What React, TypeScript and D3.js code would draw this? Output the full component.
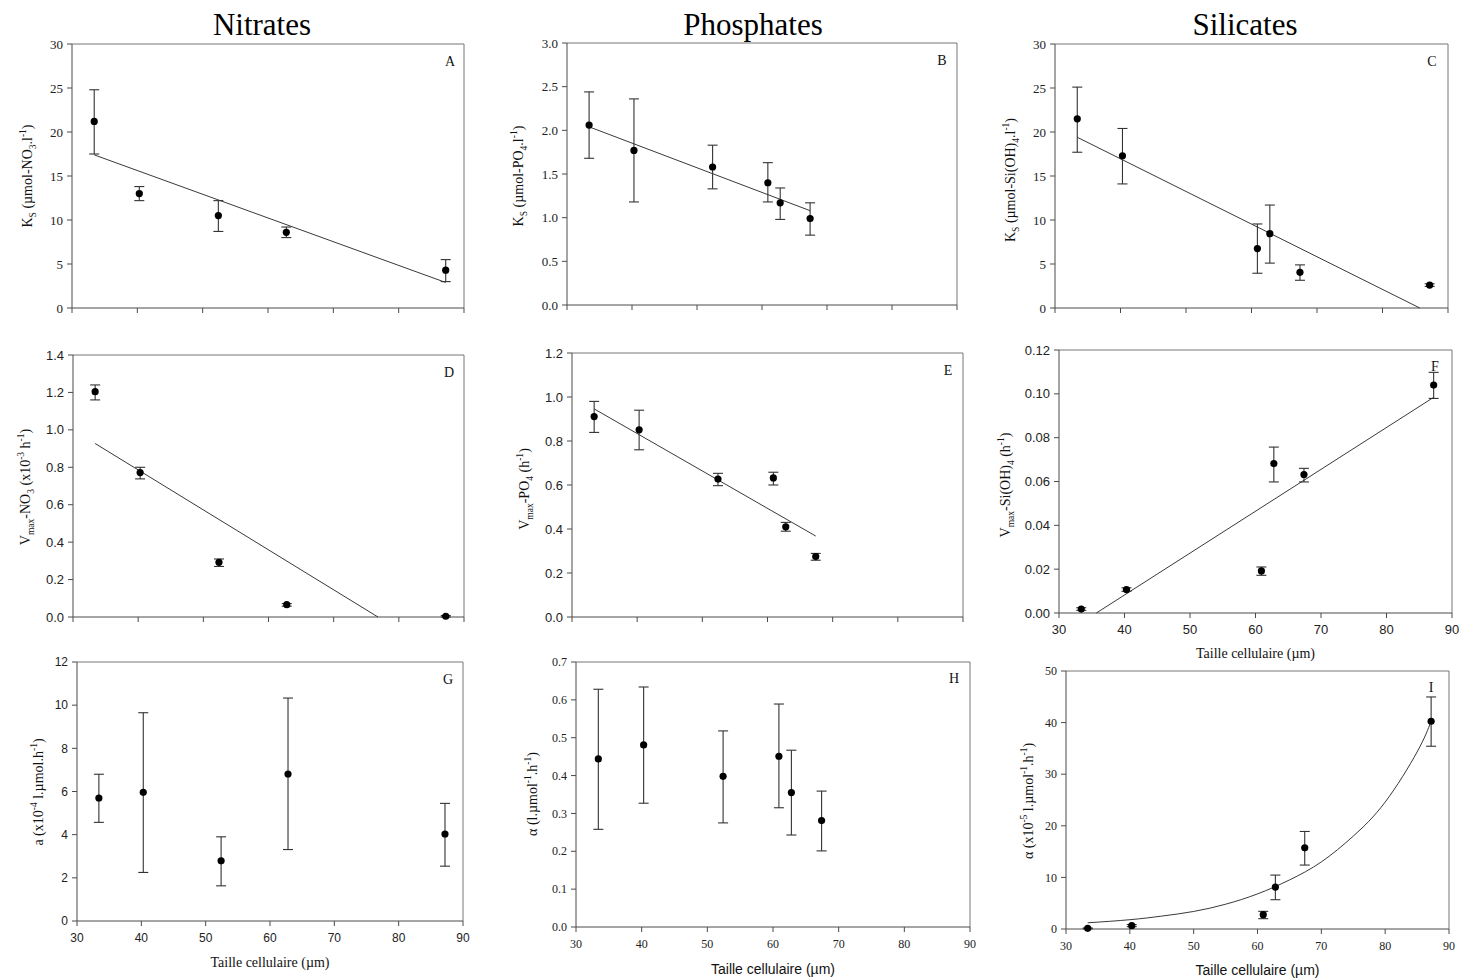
import React from 'react';
import * as d3 from 'd3';

const SERIF = '"Liberation Serif", "Times New Roman", serif';
const SANS = '"Liberation Sans", Arial, sans-serif';

// Cell sizes (µm)
const sizeNitrate = [33.4, 40.3, 52.4, 62.8, 87.2];
const sizePhosphate = [33.4, 40.3, 52.4, 60.9, 62.8, 67.4];
const sizeSilicate = [33.4, 40.3, 60.9, 62.8, 67.4, 87.2];
const xTicks = [30, 40, 50, 60, 70, 80, 90];

// A: Ks nitrate
const ksNO3 = [21.2, 13.0, 10.5, 8.6, 4.3];
const ksNO3Lo = [17.5, 12.2, 8.7, 8.0, 3.0];
const ksNO3Hi = [24.8, 13.8, 12.2, 9.2, 5.5];
const ksNO3Fit = [[33.4, 17.4], [87.2, 2.9]];
const ksNO3Ticks = [0, 5, 10, 15, 20, 25, 30];

// B: Ks phosphate
const ksPO4 = [2.06, 1.77, 1.58, 1.40, 1.17, 0.99];
const ksPO4Lo = [1.68, 1.18, 1.33, 1.18, 0.98, 0.80];
const ksPO4Hi = [2.44, 2.36, 1.83, 1.63, 1.34, 1.17];
const ksPO4Fit = [[33.4, 2.04], [67.4, 1.08]];
const ksPO4Ticks = [0, 0.5, 1.0, 1.5, 2.0, 2.5, 3.0];

// C: Ks silicate
const ksSi = [21.5, 17.3, 6.75, 8.45, 4.05, 2.6];
const ksSiLo = [17.7, 14.1, 3.95, 5.1, 3.15, 2.45];
const ksSiHi = [25.1, 20.4, 9.55, 11.7, 4.9, 2.75];
const ksSiFit = [[33.4, 19.4], [85.7, 0]];
const ksSiTicks = [0, 5, 10, 15, 20, 25, 30];

// D: Vmax nitrate
const vmNO3 = [1.204, 0.772, 0.292, 0.066, 0.004];
const vmNO3Lo = [1.16, 0.738, 0.27, 0.058, 0.0];
const vmNO3Hi = [1.24, 0.80, 0.31, 0.072, 0.008];
const vmNO3Fit = [[33.4, 0.927], [76.8, 0]];
const vmNO3Ticks = [0, 0.2, 0.4, 0.6, 0.8, 1.0, 1.2, 1.4];

// E: Vmax phosphate
const vmPO4 = [0.911, 0.851, 0.627, 0.632, 0.410, 0.275];
const vmPO4Lo = [0.839, 0.760, 0.597, 0.600, 0.390, 0.258];
const vmPO4Hi = [0.980, 0.940, 0.653, 0.658, 0.430, 0.289];
const vmPO4Fit = [[33.4, 0.946], [67.4, 0.368]];
const vmPO4Ticks = [0, 0.2, 0.4, 0.6, 0.8, 1.0, 1.2];

// F: Vmax silicate
const vmSi = [0.0018, 0.0107, 0.0192, 0.0682, 0.0632, 0.104];
const vmSiLo = [0.0012, 0.0099, 0.0172, 0.0598, 0.0598, 0.0979];
const vmSiHi = [0.0024, 0.0115, 0.0210, 0.0757, 0.0660, 0.1098];
const vmSiFit = [[35.7, 0], [87.2, 0.0984]];
const vmSiTicks = [0, 0.02, 0.04, 0.06, 0.08, 0.10, 0.12];

// G: alpha nitrate
const alNO3 = [5.70, 5.96, 2.79, 6.81, 4.03];
const alNO3Lo = [4.57, 2.25, 1.63, 3.31, 2.54];
const alNO3Hi = [6.80, 9.65, 3.90, 10.33, 5.45];
const alNO3Ticks = [0, 2, 4, 6, 8, 10, 12];

// H: alpha phosphate
const alPO4 = [0.444, 0.481, 0.398, 0.451, 0.355, 0.281];
const alPO4Lo = [0.258, 0.327, 0.275, 0.315, 0.243, 0.201];
const alPO4Hi = [0.628, 0.634, 0.518, 0.589, 0.467, 0.359];
const alPO4Ticks = [0, 0.1, 0.2, 0.3, 0.4, 0.5, 0.6, 0.7];

// I: alpha silicate
const alSi = [0.13, 0.65, 2.77, 8.13, 15.74, 40.26];
const alSiLo = [0.05, 0.45, 2.0, 5.68, 12.39, 35.42];
const alSiHi = [0.2, 0.85, 3.42, 10.45, 18.9, 44.97];
const alSiFit = [[33.4, 1.2], [40, 1.8], [45, 2.5], [50, 3.4], [55, 4.8], [60, 6.8], [65, 9.5], [70, 13.0], [75, 18.0], [80, 24.6], [85, 34.3], [87.2, 40.3]];
const alSiTicks = [0, 10, 20, 30, 40, 50];

type Seg = [string, 'n' | 'sub' | 'sup'];

function Rich({ segs, size }: { segs: Seg[]; size: number }) {
  let shift = 0;
  return (
    <>
      {segs.map((s, i) => {
        const target = s[1] === 'sub' ? size * 0.3 : s[1] === 'sup' ? -size * 0.4 : 0;
        const dy = target - shift;
        shift = target;
        return (
          <tspan key={i} dy={dy} fontSize={s[1] === 'n' ? size : size * 0.68}>
            {s[0]}
          </tspan>
        );
      })}
    </>
  );
}

interface PanelProps {
  L: number; T: number; R: number; B: number;
  yMax: number; yTicks: number[]; dec: number;
  tickFont: string; tickSize: number;
  xs: number[]; ys: number[]; lo: number[]; hi: number[];
  fit?: number[][]; smooth?: boolean;
  letter: string; lx: number; ly: number;
  yLabel: Seg[]; ylx: number; lyc: number; ylSize?: number;
  xLabels?: boolean; xLabel?: string; xLabelFont?: string; xlY?: number;
}

function Panel(p: PanelProps) {
  const x = d3.scaleLinear().domain([30, 90]).range([p.L, p.R]);
  const y = d3.scaleLinear().domain([0, p.yMax]).range([p.B, p.T]);
  const line = d3
    .line<number[]>()
    .x((d) => x(d[0]))
    .y((d) => y(d[1]))
    .curve(p.smooth ? d3.curveNatural : d3.curveLinear);
  const axisColor = '#4a4a4a';
  const frameColor = '#777';
  const cap = 5;
  return (
    <g>
      <line x1={p.L} x2={p.R} y1={p.T} y2={p.T} stroke={frameColor} strokeWidth={1} />
      <line x1={p.R} x2={p.R} y1={p.T} y2={p.B} stroke={frameColor} strokeWidth={1} />
      <line x1={p.L} x2={p.L} y1={p.T} y2={p.B} stroke={axisColor} strokeWidth={1} />
      <line x1={p.L} x2={p.R} y1={p.B} y2={p.B} stroke={axisColor} strokeWidth={1} />
      {p.yTicks.map((t) => (
        <g key={'y' + t}>
          <line x1={p.L - 5} x2={p.L} y1={y(t)} y2={y(t)} stroke={axisColor} />
          <text x={p.L - 9} y={y(t)} dy="0.35em" textAnchor="end" fontFamily={p.tickFont} fontSize={p.tickSize} fill="#222">
            {t.toFixed(p.dec)}
          </text>
        </g>
      ))}
      {xTicks.map((t) => (
        <g key={'x' + t}>
          <line x1={x(t)} x2={x(t)} y1={p.B} y2={p.B + 5} stroke={axisColor} />
          {p.xLabels && (
            <text x={x(t)} y={p.B + 21} textAnchor="middle" fontFamily={p.tickFont} fontSize={p.tickSize} fill="#222">
              {t}
            </text>
          )}
        </g>
      ))}
      {p.fit && <path d={line(p.fit) || ''} fill="none" stroke="#222" strokeWidth={0.9} />}
      {p.xs.map((xv, i) => (
        <g key={'e' + i} stroke="#333" strokeWidth={1.1}>
          <line x1={x(xv)} x2={x(xv)} y1={y(p.lo[i])} y2={y(p.hi[i])} />
          <line x1={x(xv) - cap} x2={x(xv) + cap} y1={y(p.lo[i])} y2={y(p.lo[i])} />
          <line x1={x(xv) - cap} x2={x(xv) + cap} y1={y(p.hi[i])} y2={y(p.hi[i])} />
        </g>
      ))}
      {p.xs.map((xv, i) => (
        <circle key={'p' + i} cx={x(xv)} cy={y(p.ys[i])} r={3.6} fill="#000" />
      ))}
      <text x={p.lx} y={p.ly} dy="0.35em" textAnchor="middle" fontFamily={SERIF} fontSize={14} fill="#111">
        {p.letter}
      </text>
      <text
        transform={`translate(${p.ylx},${p.lyc}) rotate(-90)`}
        textAnchor="middle"
        fontFamily={SERIF}
        fill="#111"
        fontSize={p.ylSize || 14}
      >
        <Rich segs={p.yLabel} size={p.ylSize || 14} />
      </text>
      {p.xLabel && (
        <text x={(p.L + p.R) / 2} y={p.xlY} textAnchor="middle" fontFamily={p.xLabelFont} fontSize={14} fill="#111">
          {p.xLabel}
        </text>
      )}
    </g>
  );
}

export default function App() {
  const xl = 'Taille cellulaire (µm)';
  return (
    <svg width={1459} height={979} style={{ position: 'absolute', left: 0, top: 0, background: '#fff' }}>
      <rect x={0} y={0} width={1459} height={979} fill="#fff" />
      <text x={262} y={35} textAnchor="middle" fontFamily={SERIF} fontSize={31} fill="#000">Nitrates</text>
      <text x={753} y={35} textAnchor="middle" fontFamily={SERIF} fontSize={31} fill="#000">Phosphates</text>
      <text x={1245} y={35} textAnchor="middle" fontFamily={SERIF} fontSize={31} fill="#000">Silicates</text>

      <Panel L={72} T={44} R={464} B={308} yMax={30} yTicks={ksNO3Ticks} dec={0} tickFont={SERIF} tickSize={13}
        xs={sizeNitrate} ys={ksNO3} lo={ksNO3Lo} hi={ksNO3Hi} fit={ksNO3Fit}
        letter="A" lx={450} ly={61}
        yLabel={[['K', 'n'], ['S', 'sub'], [' (µmol-NO', 'n'], ['3', 'sub'], ['.l', 'n'], ['-1', 'sup'], [')', 'n']]}
        ylx={32} lyc={176} />
      <Panel L={567} T={43} R={957} B={305} yMax={3} yTicks={ksPO4Ticks} dec={1} tickFont={SERIF} tickSize={13}
        xs={sizePhosphate} ys={ksPO4} lo={ksPO4Lo} hi={ksPO4Hi} fit={ksPO4Fit}
        letter="B" lx={942} ly={60}
        yLabel={[['K', 'n'], ['S', 'sub'], [' (µmol-PO', 'n'], ['4', 'sub'], ['.l', 'n'], ['-1', 'sup'], [')', 'n']]}
        ylx={523} lyc={176} />
      <Panel L={1055} T={44} R={1448} B={308} yMax={30} yTicks={ksSiTicks} dec={0} tickFont={SERIF} tickSize={13}
        xs={sizeSilicate} ys={ksSi} lo={ksSiLo} hi={ksSiHi} fit={ksSiFit}
        letter="C" lx={1432} ly={61}
        yLabel={[['K', 'n'], ['S', 'sub'], [' (µmol-Si(OH)', 'n'], ['4', 'sub'], ['.l', 'n'], ['-1', 'sup'], [')', 'n']]}
        ylx={1015} lyc={180} />

      <Panel L={73} T={355} R={464} B={617} yMax={1.4} yTicks={vmNO3Ticks} dec={1} tickFont={SANS} tickSize={13}
        xs={sizeNitrate} ys={vmNO3} lo={vmNO3Lo} hi={vmNO3Hi} fit={vmNO3Fit}
        letter="D" lx={449} ly={372}
        yLabel={[['V', 'n'], ['max', 'sub'], ['-NO', 'n'], ['3', 'sub'], [' (x10', 'n'], ['-3', 'sup'], [' h', 'n'], ['-1', 'sup'], [')', 'n']]}
        ylx={30} lyc={487} />
      <Panel L={572} T={353} R={963} B={617} yMax={1.2} yTicks={vmPO4Ticks} dec={1} tickFont={SANS} tickSize={13}
        xs={sizePhosphate} ys={vmPO4} lo={vmPO4Lo} hi={vmPO4Hi} fit={vmPO4Fit}
        letter="E" lx={948} ly={370}
        yLabel={[['V', 'n'], ['max', 'sub'], ['-PO', 'n'], ['4', 'sub'], [' (h', 'n'], ['-1', 'sup'], [')', 'n']]}
        ylx={529} lyc={489} />
      <Panel L={1059} T={350} R={1452} B={613} yMax={0.12} yTicks={vmSiTicks} dec={2} tickFont={SANS} tickSize={13}
        xs={sizeSilicate} ys={vmSi} lo={vmSiLo} hi={vmSiHi} fit={vmSiFit}
        letter="F" lx={1435} ly={366}
        yLabel={[['V', 'n'], ['max', 'sub'], ['-Si(OH)', 'n'], ['4', 'sub'], [' (h', 'n'], ['-1', 'sup'], [')', 'n']]}
        ylx={1010} lyc={485}
        xLabels xLabel={xl} xLabelFont={SERIF} xlY={658} />

      <Panel L={77} T={662} R={463} B={921} yMax={12} yTicks={alNO3Ticks} dec={0} tickFont={SANS} tickSize={12}
        xs={sizeNitrate} ys={alNO3} lo={alNO3Lo} hi={alNO3Hi}
        letter="G" lx={448} ly={679}
        yLabel={[['a (x10', 'n'], ['-4', 'sup'], [' l.µmol.h', 'n'], ['-1', 'sup'], [')', 'n']]}
        ylx={43} lyc={792}
        xLabels xLabel={xl} xLabelFont={SERIF} xlY={967} />
      <Panel L={576} T={662} R={970} B={927} yMax={0.7} yTicks={alPO4Ticks} dec={1} tickFont={SERIF} tickSize={12}
        xs={sizePhosphate} ys={alPO4} lo={alPO4Lo} hi={alPO4Hi}
        letter="H" lx={954} ly={678}
        yLabel={[['α (l.µmol', 'n'], ['-1', 'sup'], ['.h', 'n'], ['-1', 'sup'], [')', 'n']]}
        ylx={537} lyc={794}
        xLabels xLabel={xl} xLabelFont={SANS} xlY={974} />
      <Panel L={1066} T={671} R={1449} B={929} yMax={50} yTicks={alSiTicks} dec={0} tickFont={SERIF} tickSize={12}
        xs={sizeSilicate} ys={alSi} lo={alSiLo} hi={alSiHi} fit={alSiFit} smooth
        letter="I" lx={1431} ly={687}
        yLabel={[['α (x10', 'n'], ['-5', 'sup'], [' l.µmol', 'n'], ['-1', 'sup'], ['.h', 'n'], ['-1', 'sup'], [')', 'n']]}
        ylx={1033} lyc={801}
        xLabels xLabel={xl} xLabelFont={SANS} xlY={975} />
    </svg>
  );
}
